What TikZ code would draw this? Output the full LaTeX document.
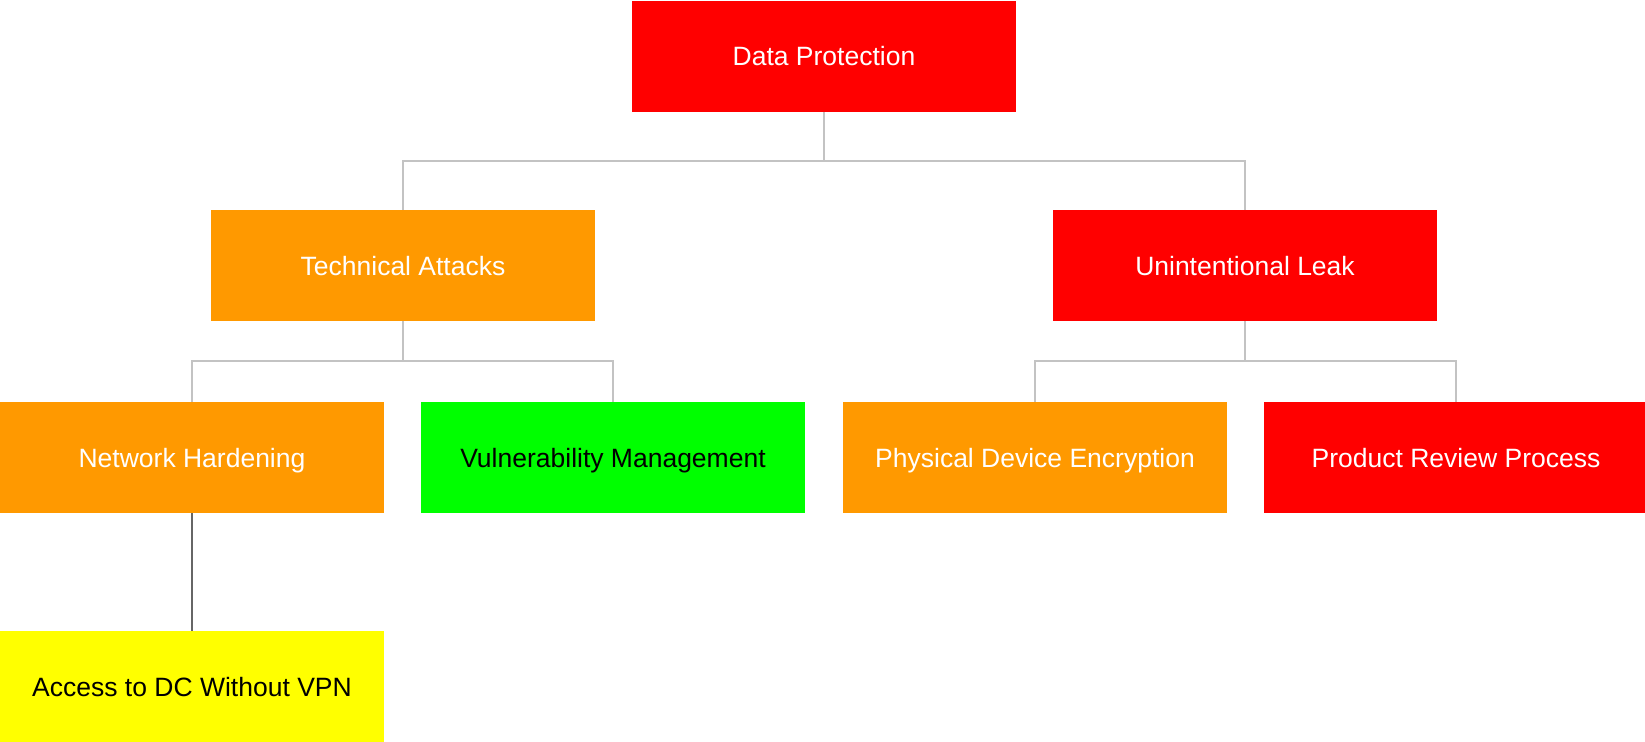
\documentclass[tikz,border=0pt]{standalone}
\usepackage{fontspec}
\setmainfont{Liberation Sans}
\definecolor{boxred}{HTML}{FF0000}
\definecolor{boxorange}{HTML}{FF9900}
\definecolor{boxgreen}{HTML}{00FF00}
\definecolor{boxyellow}{HTML}{FFFF00}
\definecolor{linkgray}{HTML}{C3C3C3}
\definecolor{linkdark}{HTML}{666666}
\begin{document}
\begin{tikzpicture}[x=1pt,y=-1pt,
  card/.style={rectangle, minimum width=384pt, minimum height=111pt, inner sep=0pt,
    text height=19pt, text depth=0pt,
    font=\fontsize{26.5}{30}\selectfont},
  hot/.style={card, fill=boxred, text=white},
  warm/.style={card, fill=boxorange, text=white},
  good/.style={card, fill=boxgreen, text=black},
  mild/.style={card, fill=boxyellow, text=black},
  conn/.style={draw=linkgray, line width=2pt},
  connd/.style={draw=linkdark, line width=2pt}]
\useasboundingbox (0,0) rectangle (1645,741);
\begin{scope}
\clip (0,0) rectangle (1645,741);
\node[hot]  (dp) at (824,56.5)  {Data Protection};
\node[warm] (ta) at (403,265.5) {Technical Attacks};
\node[hot]  (ul) at (1245,265.5) {Unintentional Leak};
\node[warm] (nh) at (192,457.5) {Network Hardening};
\node[good] (vm) at (613,457.5) {Vulnerability Management};
\node[warm] (pd) at (1035,457.5) {Physical Device Encryption};
\node[hot]  (pr) at (1456,457.5) {Product Review Process};
\node[mild] (ac) at (192,686.5) {Access to DC Without VPN};

\draw[conn] (dp.south) -- ++(0,49) -| (ta.north);
\draw[conn] (dp.south) -- ++(0,49) -| (ul.north);
\draw[conn] (ta.south) -- ++(0,40) -| (nh.north);
\draw[conn] (ta.south) -- ++(0,40) -| (vm.north);
\draw[conn] (ul.south) -- ++(0,40) -| (pd.north);
\draw[conn] (ul.south) -- ++(0,40) -| (pr.north);
\draw[connd] (nh.south) -- (ac.north);
\end{scope}
\end{tikzpicture}
\end{document}
